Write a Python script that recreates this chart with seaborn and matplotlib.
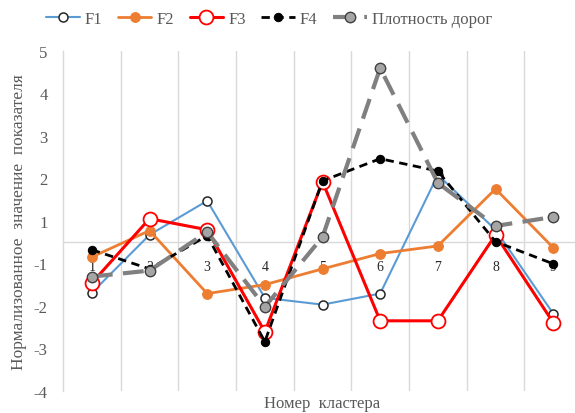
import matplotlib
matplotlib.use('Agg')
import matplotlib.pyplot as plt
import numpy as np
import pandas as pd
import seaborn as sb

# номера кластеров
clusters = [1, 2, 3, 4, 5, 6, 7, 8, 9]

# значения в координатах оси (0 = метка "1", -1 = метка "-1")
f1 = [-1.69, -0.33, 0.47, -1.81, -1.97, -1.71, 1.08, -0.21, -2.18]
f2 = [-0.85, -0.23, -1.71, -1.50, -1.13, -0.77, -0.59, 0.75, -0.63]
f3 = [-1.46, 0.05, -0.21, -2.61, 0.92, -2.35, -2.35, -0.33, -2.39]
f4 = [-0.68, -1.13, -0.35, -2.84, 0.94, 1.46, 1.17, -0.49, -1.01]
roads = [-1.31, -1.17, -0.26, -2.02, -0.38, 3.59, 0.89, -0.12, 0.09]

ytick_pos = [4, 3, 2, 1, 0, -1, -2, -3, -4]
ytick_labels = ['5', '4', '3', '2', '1', '-1', '-2', '-3', '-4']

sb.set_style('white')
plt.rcParams['font.family'] = ['Liberation Serif', 'DejaVu Serif']

txt = '#595959'
grid = '#d9d9d9'

fig = plt.figure(figsize=(5.75, 4.14), dpi=100)
ax = fig.add_axes([0.1096, 0.0531, 0.9026, 0.8222])

# F1
sb.lineplot(x=clusters, y=f1, ax=ax, color='#5b9bd5', linewidth=1.5,
            marker='o', markersize=6.5, markerfacecolor='white',
            markeredgecolor='#262626', markeredgewidth=1.1, label='F1', zorder=3)
# F2
sb.lineplot(x=clusters, y=f2, ax=ax, color='#ed7d31', linewidth=2,
            marker='o', markersize=7, markerfacecolor='#ed7d31',
            markeredgecolor='#ed7d31', label='F2', zorder=4)
# F3
sb.lineplot(x=clusters, y=f3, ax=ax, color='#ff0000', linewidth=2.2,
            marker='o', markersize=10, markerfacecolor='white',
            markeredgecolor='#ff0000', markeredgewidth=1.3, label='F3', zorder=5)
# F4
sb.lineplot(x=clusters, y=f4, ax=ax, color='black', linewidth=2,
            linestyle=(0, (3, 2)), marker='o', markersize=6,
            markerfacecolor='black', markeredgecolor='black', label='F4', zorder=6)
# плотность дорог
sb.lineplot(x=clusters, y=roads, ax=ax, color='#808080', linewidth=3,
            linestyle=(0, (5, 2.5)), marker='o', markersize=7.5,
            markerfacecolor='#a5a5a5', markeredgecolor='#404040',
            markeredgewidth=1, label='Плотность дорог', zorder=7)

ax.set_xlim(0.5, 9.5)
ax.set_ylim(-4, 4)

ax.set_xticks(clusters)
ax.set_xticklabels([str(c) for c in clusters], fontsize=12.5,
                   fontweight='bold', color=txt)
ax.set_xticks(np.arange(1.5, 9.5, 1), minor=True)
ax.set_yticks(ytick_pos)
ax.set_yticklabels(ytick_labels, fontsize=12, color=txt)
ax.tick_params(axis='both', which='both', length=0)
ax.tick_params(axis='y', pad=11)
ax.tick_params(axis='x', pad=13)

ax.grid(False)
ax.xaxis.grid(True, which='minor', color=grid, linewidth=1)

for s in ['top', 'right']:
    ax.spines[s].set_visible(False)
ax.spines['left'].set_color(grid)
ax.spines['left'].set_linewidth(1)
ax.spines['bottom'].set_position(('data', -0.5))
ax.spines['bottom'].set_color(grid)
ax.spines['bottom'].set_linewidth(1)

ax.set_ylabel('Нормализованное  значение  показателя', fontsize=12.5,
              color=txt, labelpad=5)
ax.set_xlabel('Номер  кластера', fontsize=12, color=txt)
ax.xaxis.set_label_coords(0.5, -0.012)

leg = ax.legend(loc='upper center', bbox_to_anchor=(0.468, 0.995),
                bbox_transform=fig.transFigure, ncol=5, frameon=False,
                fontsize=12, handlelength=2.0, columnspacing=0.95,
                handletextpad=0.3, borderaxespad=0.2)
for t in leg.get_texts():
    t.set_color(txt)

fig.savefig('out.png', dpi=100)
